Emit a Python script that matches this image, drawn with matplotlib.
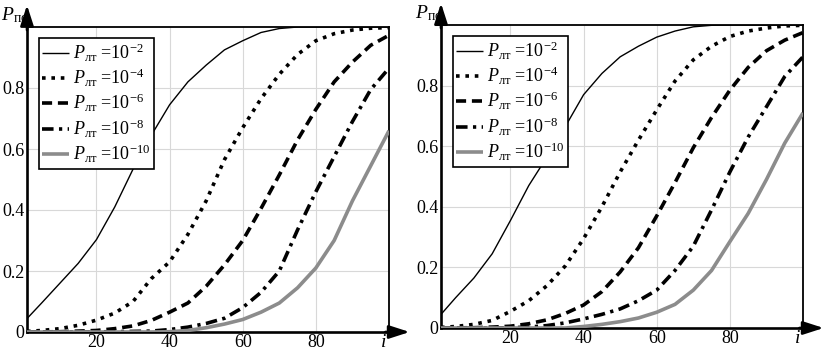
"""
Две панели: вероятность P_по в зависимости от i при разных P_лт.
"""
import matplotlib
matplotlib.use('Agg')
import matplotlib.pyplot as plt

plt.rcParams['font.family'] = ['Liberation Serif', 'DejaVu Serif']
plt.rcParams['mathtext.fontset'] = 'custom'
plt.rcParams['mathtext.rm'] = 'Liberation Serif'
plt.rcParams['mathtext.it'] = 'Liberation Serif:italic'
plt.rcParams['mathtext.bf'] = 'Liberation Serif:bold'

# ─── данные ──────────────────────────────────────────────
i_vals = [1, 5, 10, 15, 20, 25, 30, 35, 40, 45, 50,
          55, 60, 65, 70, 75, 80, 85, 90, 95, 100]

# левая панель
left_p2 = [0.044, 0.095, 0.16, 0.225, 0.303, 0.41, 0.534, 0.645, 0.745, 0.82, 0.875,
           0.925, 0.955, 0.982, 0.995, 1.0, 1.0, 1.0, 1.0, 1.0, 1.0]
left_p4 = [0.002, 0.005, 0.011, 0.022, 0.039, 0.062, 0.10, 0.175, 0.23, 0.32, 0.43,
           0.565, 0.67, 0.765, 0.845, 0.91, 0.955, 0.978, 0.99, 0.996, 0.998]
left_p6 = [0.0, 0.0005, 0.001, 0.003, 0.005, 0.011, 0.02, 0.038, 0.065, 0.095, 0.15,
           0.22, 0.30, 0.405, 0.515, 0.63, 0.73, 0.82, 0.885, 0.94, 0.973]
left_p8 = [0.0, 0.0, 0.0, 0.0, 0.0005, 0.001, 0.002, 0.003, 0.008, 0.016, 0.028,
           0.045, 0.08, 0.13, 0.20, 0.335, 0.46, 0.575, 0.69, 0.795, 0.865]
left_p10 = [0.0, 0.0, 0.0, 0.0, 0.0, 0.0, 0.0, 0.0, 0.001, 0.005, 0.014,
            0.026, 0.041, 0.065, 0.095, 0.145, 0.21, 0.30, 0.43, 0.545, 0.66]

# правая панель
right_p2 = [0.045, 0.10, 0.165, 0.245, 0.355, 0.47, 0.565, 0.665, 0.77, 0.84, 0.895,
            0.93, 0.96, 0.98, 0.994, 0.999, 1.0, 1.0, 1.0, 1.0, 1.0]
right_p4 = [0.002, 0.005, 0.012, 0.025, 0.055, 0.09, 0.14, 0.205, 0.295, 0.40, 0.515,
            0.62, 0.72, 0.815, 0.885, 0.93, 0.962, 0.98, 0.99, 0.997, 0.999]
right_p6 = [0.0, 0.0005, 0.001, 0.003, 0.006, 0.014, 0.027, 0.048, 0.076, 0.12, 0.185,
            0.265, 0.37, 0.48, 0.595, 0.695, 0.785, 0.86, 0.915, 0.95, 0.975]
right_p8 = [0.0, 0.0, 0.0, 0.0, 0.001, 0.003, 0.008, 0.017, 0.03, 0.045, 0.063,
            0.09, 0.125, 0.19, 0.27, 0.39, 0.515, 0.63, 0.73, 0.83, 0.895]
right_p10 = [0.0, 0.0, 0.0, 0.0, 0.0, 0.0, 0.0, 0.0, 0.005, 0.012, 0.021,
             0.033, 0.052, 0.078, 0.125, 0.19, 0.285, 0.378, 0.49, 0.61, 0.71]

legend_labels = [r'$P_{\mathrm{лт}}$ =10$^{-2}$', r'$P_{\mathrm{лт}}$ =10$^{-4}$',
                 r'$P_{\mathrm{лт}}$ =10$^{-6}$', r'$P_{\mathrm{лт}}$ =10$^{-8}$',
                 r'$P_{\mathrm{лт}}$ =10$^{-10}$']
x_ticks = [20, 40, 60, 80]
y_ticks = [0, 0.2, 0.4, 0.6, 0.8]
y_ticklabels = ['0', '0.2', '0.4', '0.6', '0.8']

# стили линий: (цвет, толщина, штрих)
styles = [
    ('black', 1.0, '-'),
    ('black', 2.6, (0, (1.0, 1.6))),
    ('black', 2.6, (0, (2.8, 1.6))),
    ('black', 2.6, (0, (3.2, 1.5, 0.9, 1.5))),
    ('#8c8c8c', 2.6, '-'),
]


def draw_panel(ax, series):
    for (col, lw, ls), y, lab in zip(styles, series, legend_labels):
        ax.plot(i_vals, y, color=col, lw=lw, linestyle=ls, label=lab,
                solid_capstyle='butt', dash_capstyle='butt', zorder=3)

    ax.set_xlim(1, 100)
    ax.set_ylim(0, 1.0)
    ax.set_xticks(x_ticks)
    ax.set_yticks(y_ticks)
    ax.set_yticklabels(y_ticklabels)
    ax.tick_params(length=0, labelsize=13, pad=2)
    ax.tick_params(axis='x', pad=1.5)
    ax.grid(True, color='#d8d8d8', lw=0.8, zorder=0)

    for s in ('left', 'bottom'):
        ax.spines[s].set_linewidth(1.9)
    for s in ('top', 'right'):
        ax.spines[s].set_linewidth(1.3)

    # стрелки осей
    aprops = dict(arrowstyle='-|>,head_length=0.62,head_width=0.2', color='black',
                  lw=1.9, shrinkA=0, shrinkB=0, mutation_scale=20)
    ax.annotate('', xy=(0, 1.072), xytext=(0, 0.99), xycoords='axes fraction',
                arrowprops=aprops, annotation_clip=False)
    ax.annotate('', xy=(1.057, 0), xytext=(0.99, 0), xycoords='axes fraction',
                arrowprops=aprops, annotation_clip=False)

    ax.text(-0.033, 1.04, r'$P_{\mathrm{по}}$', transform=ax.transAxes,
            fontsize=14, ha='center', va='center')
    ax.text(0.985, -0.008, 'i', transform=ax.transAxes, fontsize=14,
            style='italic', ha='center', va='top')

    leg = ax.legend(loc='upper left', bbox_to_anchor=(0.032, 0.964),
                    borderaxespad=0, fontsize=13, frameon=True, fancybox=False,
                    framealpha=1, edgecolor='black', handlelength=1.5,
                    handletextpad=0.2, labelspacing=0.18, borderpad=0.2)
    leg.get_frame().set_linewidth(1.2)
    leg.set_zorder(5)


fig = plt.figure(figsize=(8.26, 3.51), dpi=100)
ax1 = fig.add_axes([27 / 826, 19 / 351, 362 / 826, 305 / 351])
ax2 = fig.add_axes([441 / 826, 23 / 351, 362 / 826, 303 / 351])

draw_panel(ax1, [left_p2, left_p4, left_p6, left_p8, left_p10])
draw_panel(ax2, [right_p2, right_p4, right_p6, right_p8, right_p10])

fig.savefig('out.png', dpi=100)
